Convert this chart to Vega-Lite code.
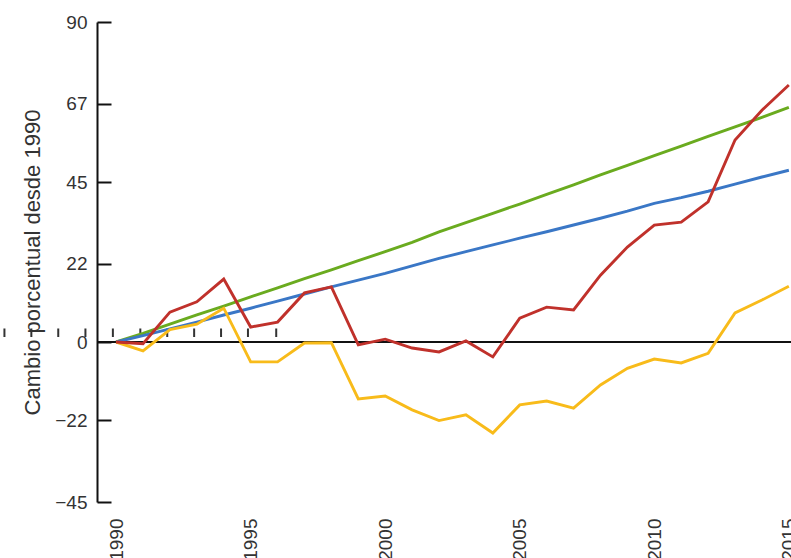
{
  "$schema": "https://vega.github.io/schema/vega-lite/v6.json",
  "autosize": {"type": "none"},
  "width": 694,
  "height": 480,
  "padding": {"left": 97, "top": 22, "right": 0, "bottom": 56},
  "background": "white",
  "config": {
    "view": {"stroke": null},
    "font": "Liberation Sans"
  },
  "datasets": {
    "series": [
      {"serie": "verde", "anio": 1990, "valor": 0}, {"serie": "verde", "anio": 1991, "valor": 2.4}, {"serie": "verde", "anio": 1992, "valor": 5.0}, {"serie": "verde", "anio": 1993, "valor": 7.6}, {"serie": "verde", "anio": 1994, "valor": 10.1}, {"serie": "verde", "anio": 1995, "valor": 12.7}, {"serie": "verde", "anio": 1996, "valor": 15.2}, {"serie": "verde", "anio": 1997, "valor": 17.8}, {"serie": "verde", "anio": 1998, "valor": 20.3}, {"serie": "verde", "anio": 1999, "valor": 22.9}, {"serie": "verde", "anio": 2000, "valor": 25.4}, {"serie": "verde", "anio": 2001, "valor": 28.0}, {"serie": "verde", "anio": 2002, "valor": 31.0}, {"serie": "verde", "anio": 2003, "valor": 33.6}, {"serie": "verde", "anio": 2004, "valor": 36.2}, {"serie": "verde", "anio": 2005, "valor": 38.8}, {"serie": "verde", "anio": 2006, "valor": 41.5}, {"serie": "verde", "anio": 2007, "valor": 44.2}, {"serie": "verde", "anio": 2008, "valor": 47.0}, {"serie": "verde", "anio": 2009, "valor": 49.7}, {"serie": "verde", "anio": 2010, "valor": 52.4}, {"serie": "verde", "anio": 2011, "valor": 55.1}, {"serie": "verde", "anio": 2012, "valor": 57.8}, {"serie": "verde", "anio": 2013, "valor": 60.5}, {"serie": "verde", "anio": 2014, "valor": 63.2}, {"serie": "verde", "anio": 2015, "valor": 66.0},
      {"serie": "azul", "anio": 1990, "valor": 0}, {"serie": "azul", "anio": 1991, "valor": 1.8}, {"serie": "azul", "anio": 1992, "valor": 3.7}, {"serie": "azul", "anio": 1993, "valor": 5.6}, {"serie": "azul", "anio": 1994, "valor": 7.6}, {"serie": "azul", "anio": 1995, "valor": 9.5}, {"serie": "azul", "anio": 1996, "valor": 11.5}, {"serie": "azul", "anio": 1997, "valor": 13.5}, {"serie": "azul", "anio": 1998, "valor": 15.5}, {"serie": "azul", "anio": 1999, "valor": 17.4}, {"serie": "azul", "anio": 2000, "valor": 19.3}, {"serie": "azul", "anio": 2001, "valor": 21.4}, {"serie": "azul", "anio": 2002, "valor": 23.5}, {"serie": "azul", "anio": 2003, "valor": 25.4}, {"serie": "azul", "anio": 2004, "valor": 27.3}, {"serie": "azul", "anio": 2005, "valor": 29.2}, {"serie": "azul", "anio": 2006, "valor": 31.0}, {"serie": "azul", "anio": 2007, "valor": 32.9}, {"serie": "azul", "anio": 2008, "valor": 34.8}, {"serie": "azul", "anio": 2009, "valor": 36.8}, {"serie": "azul", "anio": 2010, "valor": 39.0}, {"serie": "azul", "anio": 2011, "valor": 40.6}, {"serie": "azul", "anio": 2012, "valor": 42.4}, {"serie": "azul", "anio": 2013, "valor": 44.4}, {"serie": "azul", "anio": 2014, "valor": 46.4}, {"serie": "azul", "anio": 2015, "valor": 48.3},
      {"serie": "amarillo", "anio": 1990, "valor": 0}, {"serie": "amarillo", "anio": 1991, "valor": -2.5}, {"serie": "amarillo", "anio": 1992, "valor": 3.5}, {"serie": "amarillo", "anio": 1993, "valor": 5.0}, {"serie": "amarillo", "anio": 1994, "valor": 9.5}, {"serie": "amarillo", "anio": 1995, "valor": -5.6}, {"serie": "amarillo", "anio": 1996, "valor": -5.6}, {"serie": "amarillo", "anio": 1997, "valor": -0.3}, {"serie": "amarillo", "anio": 1998, "valor": -0.2}, {"serie": "amarillo", "anio": 1999, "valor": -16.0}, {"serie": "amarillo", "anio": 2000, "valor": -15.2}, {"serie": "amarillo", "anio": 2001, "valor": -19.1}, {"serie": "amarillo", "anio": 2002, "valor": -22.1}, {"serie": "amarillo", "anio": 2003, "valor": -20.5}, {"serie": "amarillo", "anio": 2004, "valor": -25.6}, {"serie": "amarillo", "anio": 2005, "valor": -17.7}, {"serie": "amarillo", "anio": 2006, "valor": -16.6}, {"serie": "amarillo", "anio": 2007, "valor": -18.6}, {"serie": "amarillo", "anio": 2008, "valor": -12.1}, {"serie": "amarillo", "anio": 2009, "valor": -7.4}, {"serie": "amarillo", "anio": 2010, "valor": -4.8}, {"serie": "amarillo", "anio": 2011, "valor": -5.9}, {"serie": "amarillo", "anio": 2012, "valor": -3.2}, {"serie": "amarillo", "anio": 2013, "valor": 8.2}, {"serie": "amarillo", "anio": 2014, "valor": 11.8}, {"serie": "amarillo", "anio": 2015, "valor": 15.7},
      {"serie": "rojo", "anio": 1990, "valor": 0}, {"serie": "rojo", "anio": 1991, "valor": -0.5}, {"serie": "rojo", "anio": 1992, "valor": 8.4}, {"serie": "rojo", "anio": 1993, "valor": 11.3}, {"serie": "rojo", "anio": 1994, "valor": 17.7}, {"serie": "rojo", "anio": 1995, "valor": 4.2}, {"serie": "rojo", "anio": 1996, "valor": 5.6}, {"serie": "rojo", "anio": 1997, "valor": 13.8}, {"serie": "rojo", "anio": 1998, "valor": 15.5}, {"serie": "rojo", "anio": 1999, "valor": -0.8}, {"serie": "rojo", "anio": 2000, "valor": 0.8}, {"serie": "rojo", "anio": 2001, "valor": -1.7}, {"serie": "rojo", "anio": 2002, "valor": -2.8}, {"serie": "rojo", "anio": 2003, "valor": 0.3}, {"serie": "rojo", "anio": 2004, "valor": -4.2}, {"serie": "rojo", "anio": 2005, "valor": 6.7}, {"serie": "rojo", "anio": 2006, "valor": 9.8}, {"serie": "rojo", "anio": 2007, "valor": 9.0}, {"serie": "rojo", "anio": 2008, "valor": 18.8}, {"serie": "rojo", "anio": 2009, "valor": 26.7}, {"serie": "rojo", "anio": 2010, "valor": 32.9}, {"serie": "rojo", "anio": 2011, "valor": 33.7}, {"serie": "rojo", "anio": 2012, "valor": 39.4}, {"serie": "rojo", "anio": 2013, "valor": 56.8}, {"serie": "rojo", "anio": 2014, "valor": 65.2}, {"serie": "rojo", "anio": 2015, "valor": 72.3}
    ],
    "marcas": [
      {"anio": 1985.85}, {"anio": 1986.85}, {"anio": 1987.85}, {"anio": 1988.86}, {"anio": 1989.88}, {"anio": 1990.9}, {"anio": 1991.9}, {"anio": 1992.9}, {"anio": 1993.9}, {"anio": 1994.9}, {"anio": 1995.95}
    ],
    "cero": [{"anio": 1989.29, "anio2": 2015.08, "valor": 0}]
  },
  "layer": [
    {
      "data": {"name": "cero"},
      "mark": {"type": "rule", "color": "#111111", "strokeWidth": 2},
      "encoding": {
        "x": {"field": "anio", "type": "quantitative", "scale": {"domain": [1989.29, 2015.08], "nice": false, "zero": false}},
        "x2": {"field": "anio2"},
        "y": {"field": "valor", "type": "quantitative"}
      }
    },
    {
      "data": {"name": "marcas"},
      "mark": {"type": "rule", "color": "#333333", "strokeWidth": 2, "clip": false},
      "encoding": {
        "x": {"field": "anio", "type": "quantitative"},
        "y": {"datum": 1.4, "type": "quantitative"},
        "y2": {"datum": 3.8}
      }
    },
    {
      "data": {"name": "series"},
      "mark": {"type": "line", "strokeWidth": 2.9, "clip": true},
      "encoding": {
        "x": {
          "field": "anio", "type": "quantitative",
          "scale": {"domain": [1989.29, 2015.08], "nice": false, "zero": false},
          "axis": {
            "values": [1990, 1995, 2000, 2005, 2010, 2015],
            "format": "d",
            "title": null,
            "domain": false,
            "ticks": false,
            "grid": false,
            "labelAngle": 270,
            "labelPadding": 16,
            "labelFontSize": 19,
            "labelColor": "#333333",
            "labelFlush": false,
            "labelOverlap": false,
            "labelBound": false
          }
        },
        "y": {
          "field": "valor", "type": "quantitative",
          "scale": {"domain": [-45, 90], "nice": false, "zero": false},
          "axis": {
            "values": [-45, -22, 0, 22, 45, 67, 90],
            "labelExpr": "replace(datum.label, '-', '–')",
            "title": "Cambio porcentual desde 1990",
            "titleFontSize": 22,
            "titleFontWeight": "normal",
            "titleColor": "#333333",
            "titleX": -65,
            "titleY": 240,
            "titleAngle": 270,
            "titleAlign": "center",
            "titleBaseline": "middle",
            "grid": false,
            "domainColor": "#111111",
            "domainWidth": 2,
            "tickColor": "#111111",
            "tickWidth": 2,
            "tickSize": -14,
            "labelPadding": 24,
            "labelFontSize": 19,
            "labelColor": "#333333",
            "labelFlush": false,
            "labelOverlap": false,
            "labelBound": false
          }
        },
        "color": {
          "field": "serie", "type": "nominal",
          "scale": {"domain": ["verde", "azul", "amarillo", "rojo"], "range": ["#6aab1f", "#3a77c6", "#f8bb1a", "#c0312b"]},
          "legend": null
        },
        "order": {"field": "anio"}
      }
    }
  ]
}
